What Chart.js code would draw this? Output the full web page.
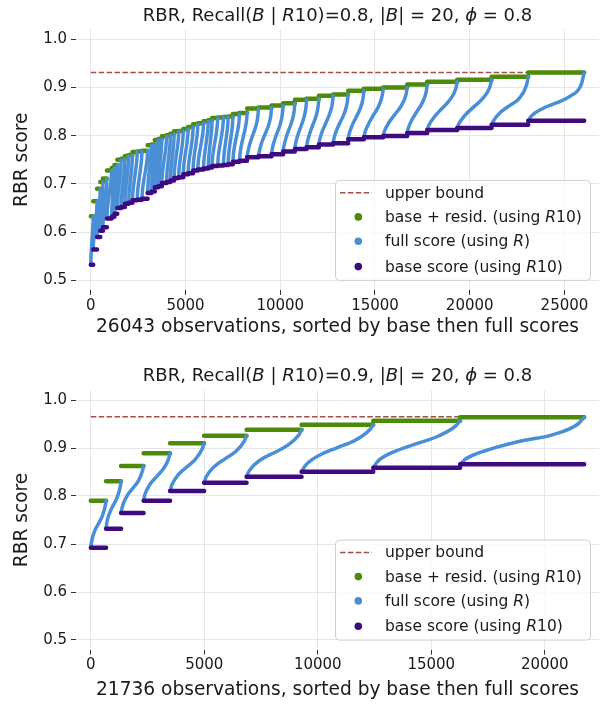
<!DOCTYPE html>
<html><head><meta charset="utf-8">
<script src="https://cdn.jsdelivr.net/npm/chart.js@4.4.1/dist/chart.umd.min.js"></script>
<style>
html,body{margin:0;padding:0;background:#fff;}
.box{position:absolute;left:0;width:605px;}
canvas{display:block;}
</style>
</head><body>
<div class="box" style="top:0;height:352px"><canvas id="c1" width="605" height="352"></canvas></div>
<div class="box" style="top:352px;height:353px"><canvas id="c2" width="605" height="353"></canvas></div>
<script>
// ---------- DATA ----------
// Top panel: Recall(B|R10)=0.8
const topN = 26043;
const topUpper = 0.931;
const topStarts = [0,130,330,500,640,850,1100,1250,1400,1600,1800,2000,2200,2450,2700,3000,3200,3380,3560,3750,4000,4200,4400,4640,4880,5140,5400,5650,5950,6200,6400,6700,7000,7250,7500,7850,
  8250,8850,9541,10153,10771,11389,12038,12793,13585,14414,15433,16700,17756,19340,21156,23089];
const topBase = [0.532,0.564,0.590,0.603,0.610,0.628,0.632,0.638,0.650,0.652,0.659,0.661,0.666,0.667,0.669,0.681,0.684,0.693,0.695,0.702,0.704,0.707,0.712,0.714,0.720,0.722,0.728,0.730,0.732,0.734,0.737,0.738,0.739,0.741,0.746,0.748,
  0.7553,0.7574,0.7615,0.7672,0.7726,0.7761,0.7817,0.7844,0.7927,0.7969,0.7996,0.8058,0.8121,0.8162,0.8225,0.8308];
const topResid = [0.633,0.664,0.690,0.704,0.711,0.728,0.733,0.739,0.750,0.752,0.758,0.760,0.766,0.767,0.769,0.780,0.782,0.791,0.793,0.799,0.801,0.804,0.809,0.810,0.814,0.818,0.824,0.826,0.830,0.832,0.837,0.838,0.839,0.840,0.845,0.847,
  0.8565,0.8586,0.8628,0.8676,0.8744,0.8765,0.8827,0.8857,0.8931,0.8973,0.9002,0.9064,0.9119,0.9160,0.9222,0.9314];
// full score samples inside each group, at the positions in blueFracs
const topFull = [
 [0.544,0.564,0.583,0.601,0.621],[0.576,0.596,0.614,0.632,0.652],[0.602,0.622,0.640,0.658,0.678],
 [0.615,0.635,0.654,0.672,0.692],[0.622,0.642,0.661,0.679,0.699],[0.640,0.660,0.678,0.696,0.716],
 [0.644,0.664,0.683,0.701,0.721],[0.650,0.670,0.689,0.707,0.727],[0.662,0.682,0.700,0.718,0.738],
 [0.664,0.684,0.702,0.720,0.740],[0.671,0.691,0.709,0.726,0.746],[0.673,0.693,0.711,0.728,0.748],
 [0.678,0.698,0.716,0.734,0.754],[0.679,0.699,0.717,0.735,0.755],[0.681,0.701,0.719,0.737,0.757],
 [0.693,0.713,0.731,0.748,0.768],[0.696,0.715,0.733,0.751,0.770],[0.705,0.724,0.742,0.760,0.779],
 [0.707,0.726,0.744,0.762,0.781],[0.714,0.733,0.751,0.768,0.787],[0.716,0.735,0.753,0.770,0.789],
 [0.719,0.738,0.756,0.773,0.792],[0.724,0.743,0.761,0.778,0.797],[0.726,0.745,0.762,0.779,0.798],
 [0.731,0.750,0.767,0.784,0.803],[0.734,0.753,0.770,0.787,0.806],[0.740,0.759,0.776,0.793,0.812],
 [0.742,0.761,0.778,0.795,0.814],[0.744,0.763,0.781,0.799,0.818],[0.746,0.765,0.783,0.801,0.820],
 [0.749,0.769,0.787,0.805,0.825],[0.750,0.770,0.788,0.806,0.826],[0.751,0.771,0.789,0.807,0.827],
 [0.753,0.773,0.791,0.808,0.828],[0.758,0.778,0.796,0.813,0.833],[0.760,0.780,0.798,0.815,0.835],
 [0.764,0.784,0.801,0.818,0.841],[0.766,0.786,0.803,0.820,0.843],[0.771,0.790,0.807,0.824,0.848],
 [0.776,0.796,0.813,0.830,0.853],[0.782,0.801,0.818,0.836,0.859],[0.785,0.804,0.822,0.839,0.862],
 [0.791,0.810,0.827,0.845,0.868],[0.794,0.813,0.830,0.847,0.871],[0.802,0.821,0.838,0.855,0.878],
 [0.806,0.825,0.843,0.860,0.883],[0.809,0.828,0.845,0.862,0.885],[0.815,0.834,0.851,0.868,0.891],
 [0.821,0.840,0.857,0.874,0.897],[0.825,0.844,0.861,0.878,0.901],[0.831,0.849,0.863,0.877,0.904],
 [0.840,0.856,0.868,0.882,0.907]
];
// Bottom panel: Recall(B|R10)=0.9
const botN = 21736;
const botUpper = 0.965;
const botStarts = [0,674,1335,2326,3493,4991,6863,9286,12445,16269];
const botBase = [0.6923,0.7319,0.7646,0.7902,0.8104,0.8277,0.8402,0.8506,0.859,0.866];
const botResid = [0.7902,0.8306,0.8625,0.889,0.9098,0.9256,0.9381,0.9485,0.9569,0.9639];
const botFull = [
 [0.705,0.727,0.742,0.758,0.780],[0.745,0.766,0.782,0.798,0.820],[0.777,0.799,0.815,0.830,0.852],
 [0.803,0.825,0.841,0.857,0.878],[0.823,0.845,0.861,0.877,0.899],[0.840,0.862,0.878,0.893,0.915],
 [0.853,0.875,0.890,0.906,0.927],[0.863,0.885,0.901,0.916,0.938],[0.872,0.893,0.909,0.925,0.946],
 [0.878,0.898,0.915,0.928,0.950]
];
const blueFracs = [0.05,0.25,0.5,0.75,0.95];
const topXTicks = [0,5000,10000,15000,20000,25000];
const botXTicks = [0,5000,10000,15000,20000];
const yTicks = [0.5,0.6,0.7,0.8,0.9,1.0];
const legendLabels = [
  [["upper bound",0]],
  [["base + resid. (using ",0],["R",1],["10)",0]],
  [["full score (using ",0],["R",1],[")",0]],
  [["base score (using ",0],["R",1],["10)",0]]
];
const topTitle = [["RBR, Recall(",0],["B",1],[" | ",0],["R",1],["10)=0.8, |",0],["B",1],["| = 20, ",0],["\u03d5",1],[" = 0.8",0]];
const botTitle = [["RBR, Recall(",0],["B",1],[" | ",0],["R",1],["10)=0.9, |",0],["B",1],["| = 20, ",0],["\u03d5",1],[" = 0.8",0]];
const topXLabel = "26043 observations, sorted by base then full scores";
const botXLabel = "21736 observations, sorted by base then full scores";
const yLabel = "RBR score";

// ---------- STYLE ----------
const FONT = '"DejaVu Sans", "Liberation Sans", sans-serif';
const C_UP = '#a24f4f', C_GREEN = '#4b8b08', C_BLUE = '#4a8fd6', C_PURPLE = '#3f0a80';
const TXT = '#1a1a1a';

function buildDatasets(starts, base, resid, full, N, upper) {
  const g = [], p = [], b = [];
  for (let i = 0; i < starts.length; i++) {
    const s = starts[i], e = (i + 1 < starts.length ? starts[i + 1] : N) - 1;
    g.push({x: s, y: resid[i]}, {x: e, y: resid[i]}, {x: e + 0.5, y: null});
    p.push({x: s, y: base[i]}, {x: e, y: base[i]}, {x: e + 0.5, y: null});
    b.push({x: s, y: base[i]});
    blueFracs.forEach((f, j) => b.push({x: s + f * (e - s), y: full[i][j]}));
    b.push({x: e, y: resid[i]}, {x: e + 0.5, y: null});
  }
  return [
    {label: 'upper bound', data: [{x: 0, y: upper}, {x: N - 1, y: upper}], borderColor: C_UP, borderWidth: 1.5, borderDash: [5.5, 2.4], pointRadius: 0, order: 3},
    {label: 'base + resid.', data: g, borderColor: C_GREEN, borderWidth: 4.5, borderCapStyle: 'round', pointRadius: 0, order: 2},
    {label: 'full score', data: b, borderColor: C_BLUE, borderWidth: 3.5, borderCapStyle: 'round', borderJoinStyle: 'round', cubicInterpolationMode: 'monotone', pointRadius: 0, order: 1},
    {label: 'base score', data: p, borderColor: C_PURPLE, borderWidth: 4.5, borderCapStyle: 'round', pointRadius: 0, order: 0}
  ];
}

function drawRich(ctx, segs, x, y, size, align) {
  const fonts = segs.map(s => (s[1] ? 'italic ' : '') + size + 'px ' + FONT);
  let w = 0;
  const ws = segs.map((s, i) => { ctx.font = fonts[i]; const m = ctx.measureText(s[0]).width; w += m; return m; });
  let cx = align === 'center' ? x - w / 2 : x;
  ctx.textAlign = 'left';
  segs.forEach((s, i) => { ctx.font = fonts[i]; ctx.fillText(s[0], cx, y); cx += ws[i]; });
}

function decorPlugin(title) {
  return {
    id: 'decor',
    afterDraw(chart) {
      const ctx = chart.ctx, a = chart.chartArea;
      ctx.save();
      // title
      ctx.fillStyle = TXT;
      ctx.textBaseline = 'alphabetic';
      drawRich(ctx, title, (a.left + a.right) / 2, a.top - 9, 18, 'center');
      // legend
      const W = 255, H = 100;
      const bx = a.right - 9 - W, by = a.bottom - 10 - H;
      ctx.beginPath();
      if (ctx.roundRect) ctx.roundRect(bx + 0.5, by + 0.5, W, H, 4); else ctx.rect(bx + 0.5, by + 0.5, W, H);
      ctx.fillStyle = 'rgba(255,255,255,0.8)';
      ctx.fill();
      ctx.strokeStyle = '#d0d0d0';
      ctx.lineWidth = 1;
      ctx.stroke();
      const rows = [12.8, 37, 61.3, 86.7];
      const cols = [null, C_GREEN, C_BLUE, C_PURPLE];
      rows.forEach((dy, i) => {
        const yy = by + dy;
        if (i === 0) {
          ctx.save();
          ctx.strokeStyle = C_UP; ctx.lineWidth = 1.5; ctx.setLineDash([5.5, 2.4]);
          ctx.beginPath(); ctx.moveTo(bx + 5, yy); ctx.lineTo(bx + 37, yy); ctx.stroke();
          ctx.restore();
        } else {
          ctx.beginPath(); ctx.arc(bx + 23.3, yy, 3.8, 0, Math.PI * 2);
          ctx.fillStyle = cols[i]; ctx.fill();
        }
        ctx.fillStyle = TXT;
        ctx.textBaseline = 'middle';
        drawRich(ctx, legendLabels[i], bx + 50, yy + 1, 15.5, 'left');
      });
      ctx.restore();
    }
  };
}

function makeChart(id, opts) {
  const fixTicks = (vals) => (scale) => { scale.ticks = vals.map(v => ({value: v})); };
  return new Chart(document.getElementById(id), {
    type: 'line',
    data: {datasets: buildDatasets(opts.starts, opts.base, opts.resid, opts.full, opts.N, opts.upper)},
    options: {
      responsive: false,
      animation: false,
      events: [],
      layout: {padding: {top: opts.padTop, right: 6, left: 0, bottom: 0}},
      plugins: {legend: {display: false}, title: {display: false}, tooltip: {enabled: false}},
      scales: {
        x: {
          type: 'linear', min: opts.xmin, max: opts.xmax,
          afterBuildTicks: fixTicks(opts.xTicks),
          afterFit: (s) => { s.height = opts.xAxisH; },
          grid: {color: '#e6e6e6', lineWidth: 1, tickLength: 5, tickColor: '#333', tickWidth: 1},
          border: {display: false},
          ticks: {font: {family: FONT, size: 15}, color: TXT, padding: 2, maxRotation: 0, callback: (v) => String(v)},
          title: {display: true, text: opts.xLabel, font: {family: FONT, size: 18.6}, color: TXT, padding: {top: 0, bottom: opts.xTitlePad}}
        },
        y: {
          min: 0.48, max: 1.02,
          afterBuildTicks: fixTicks(yTicks),
          afterFit: (s) => { s.width = 76; },
          grid: {color: '#e6e6e6', lineWidth: 1, tickLength: 5, tickColor: '#333', tickWidth: 1},
          border: {display: false},
          ticks: {font: {family: FONT, size: 15}, color: TXT, padding: 4, callback: (v) => v.toFixed(1)},
          title: {display: true, text: yLabel, font: {family: FONT, size: 18.6}, color: TXT, padding: {top: 11, bottom: 0}}
        }
      }
    },
    plugins: [decorPlugin(opts.title)]
  });
}

makeChart('c1', {starts: topStarts, base: topBase, resid: topResid, full: topFull, N: topN, upper: topUpper,
  xmin: -781, xmax: 26824, xTicks: topXTicks, xLabel: topXLabel, title: topTitle,
  padTop: 29.7, xAxisH: 62.1, xTitlePad: 14});
makeChart('c2', {starts: botStarts, base: botBase, resid: botResid, full: botFull, N: botN, upper: botUpper,
  xmin: -652, xmax: 22388, xTicks: botXTicks, xLabel: botXLabel, title: botTitle,
  padTop: 38.4, xAxisH: 55.4, xTitlePad: 4});
</script>
</body></html>
